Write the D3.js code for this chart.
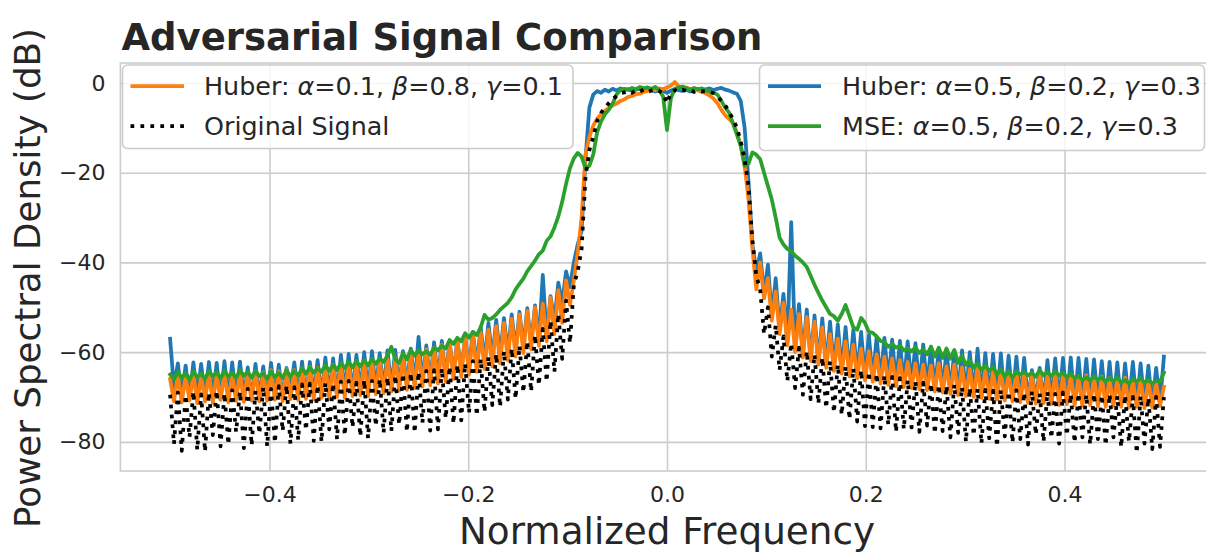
<!DOCTYPE html>
<html><head><meta charset="utf-8">
<script src="https://cdn.jsdelivr.net/npm/d3@7"></script>
<style>
body{margin:0;background:#fff}
svg{display:block}
</style>
</head><body>
<svg id="chart" width="1206" height="555"></svg>
<script>
// ---- DATA (PSD in dB, sampled every 1/256 of normalized frequency from -0.5 to 0.5) ----
const freqStart = -0.5, freqStop = 0.5;
const huberA = [ // Huber: a=0.5, b=0.2, g=0.3 (blue)
-57,-68,-62.5,-70,-63,-70.5,-62.3,-69.8,-62.6,-70.4,-62.2,-70,-62.4,-70.6,-62,-70.2,
-62.3,-70.5,-62.1,-70.1,-63.4,-70.8,-62.6,-70.3,-63.2,-70.6,-62.4,-70,-62.8,-70.4,-63.5,-68.4,
-62.3,-69.8,-62.1,-70.2,-62.2,-69.6,-61.8,-70,-61.2,-69.4,-61.4,-69.6,-60.6,-69,-60.4,-69.2,
-60.6,-68.8,-60,-69,-59.8,-68.4,-60.2,-68.6,-59.6,-68,-59.5,-67.8,-59.8,-67.5,-59.2,-67.2,
-56.6,-66.8,-58.5,-66.6,-57.8,-66,-57.5,-65.6,-57.6,-65,-57.2,-64.4,-56.4,-63.8,-55.5,-63,
-54.4,-62.2,-53.5,-61.4,-52.8,-60.8,-52.4,-60.2,-51.6,-59.6,-51,-59,-50.2,-58.2,-49.6,-57.4,
-42.8,-56.6,-47.5,-53,-44.5,-49,-42,-45.5,-40,-36,-33,-17,-5.5,-2.6,-1.8,-2.2,
-1.5,-1.9,-1.3,-1.7,-1.2,-1.6,-1.4,-1.8,-1.5,-1.3,-1.7,-1.4,-1.6,-1.9,-1.5,-1.8,
-2.2,-1.7,-1.4,-1.6,-1.8,-1.5,-1.9,-1.6,-1.3,-1.8,-1.4,-1.2,-1.6,-1.3,-1.1,-1.5,
-1.7,-2.1,-2.4,-4,-10,-22,-36,-42,-38,-47,-40.5,-52,-43.5,-55,-47,-57.5,
-31,-59,-49.3,-60.5,-50.5,-61.5,-51.8,-62.2,-52.5,-63,-53.2,-63.6,-53.8,-64.2,-54.4,-64.8,
-55,-65.2,-55.5,-65.6,-56.2,-66,-56.6,-66.4,-56.8,-66.6,-57.2,-67,-57.5,-67.3,-57.6,-67.5,
-58,-67.8,-58.3,-68,-58.8,-68.4,-59.3,-68.6,-59.5,-69,-59.8,-69.3,-59.6,-69.5,-60,-69.8,
-59.2,-70,-60.2,-70.2,-60.4,-70.4,-60.3,-70.5,-60.8,-70.6,-61,-70.8,-61.3,-71,-64,-71,
-63.5,-71.2,-61.8,-71,-61.4,-71.3,-61.3,-71.2,-61.2,-71.4,-61.3,-71.3,-61.5,-71.5,-61.6,-71.4,
-62,-71.6,-62.2,-71.5,-62.3,-71.8,-62.5,-71.6,-62.2,-72,-62.5,-71.8,-63,-72,-63.5,-71.5,
-61];
const huberB = [ // Huber: a=0.1, b=0.8, g=0.1 (orange)
-66,-71,-65,-71.2,-65.4,-70.8,-64.8,-71.4,-65.2,-71,-64.6,-71.3,-65,-70.6,-64.5,-71.2,
-64.8,-70.9,-64.3,-71.1,-64.6,-70.7,-64.2,-71,-64.5,-70.8,-64,-70.6,-64.3,-70.9,-63.8,-70.5,
-64,-70.7,-63.6,-70.4,-63.3,-70.6,-63.5,-70.2,-63,-70.4,-62.8,-70,-62.6,-70.2,-62.4,-69.8,
-62.5,-69.6,-62.2,-69.8,-62,-69.4,-61.8,-69.2,-61.5,-68.8,-61.2,-68.6,-60.8,-68.4,-60.4,-68,
-60,-67.7,-59.4,-67.4,-59,-67,-58.4,-66.6,-57.8,-66,-57.2,-65.5,-56.6,-65,-56,-64.4,
-55.6,-63.8,-55,-63.2,-54.2,-62.5,-53.5,-61.8,-52.6,-61,-51.6,-60.2,-50.8,-59.4,-50,-58.6,
-49.2,-57.6,-47.8,-56,-46.2,-53.5,-44,-49.5,-44,-38,-30,-16,-12,-9.5,-8,-7,
-6.2,-5.6,-5,-4.6,-4,-3.7,-3.1,-2.9,-2.5,-2.4,-2,-1.8,-1.5,-1.6,-1.2,-1.4,
-1,-0.6,0.2,-0.8,-1.2,-1,-1.4,-1.3,-1.7,-2,-2.3,-2.8,-3.5,-4.5,-6,-7.2,
-8,-9,-11,-14,-18.5,-26,-37,-46,-40,-48,-43.5,-53,-46.5,-56,-49,-58.5,
-50.5,-60,-51.5,-61.2,-52.2,-62,-53.2,-62.8,-54.5,-63.5,-56,-64.2,-57,-64.8,-57.6,-65.4,
-58.4,-65.8,-59.2,-66.3,-59.8,-66.6,-60.5,-67,-61,-67.3,-61.4,-67.6,-61.8,-67.8,-62.2,-68,
-62.5,-68.3,-62.8,-68.5,-63,-68.8,-62.5,-69,-63.2,-69.3,-62.8,-69.6,-63.4,-69.8,-63.8,-70,
-63.2,-70.2,-64,-70.4,-64.3,-70.6,-64,-70.8,-64.6,-71,-64.4,-71.2,-64.8,-71.3,-65.2,-71.5,
-64.6,-71.4,-65,-71.6,-64.8,-71.8,-65.3,-71.6,-65,-71.8,-65.5,-72,-65.2,-71.8,-65.6,-72,
-65.4,-72.2,-65.8,-72,-66,-72.2,-65.7,-72.4,-66.2,-72.2,-66,-72.5,-66.4,-72.3,-66.8,-72,
-67.7];
const mseVals = [ // MSE: a=0.5, b=0.2, g=0.3 (green)
-65,-66,-64.4,-65.8,-64.6,-66.2,-64.3,-65.6,-64.8,-66,-64.2,-65.4,-64.5,-65.9,-64.1,-65.5,
-64.6,-65.8,-64,-65.3,-64.4,-65.7,-64.2,-65.4,-64.7,-66,-64.3,-65.6,-64.6,-65.8,-64,-65.5,
-64.2,-65.3,-63.6,-64.8,-63.4,-64.6,-63.6,-64.4,-63,-64.2,-62.8,-64,-62.4,-63.6,-62.2,-63.4,
-62,-63.2,-61.8,-63,-61.5,-62.6,-61.4,-62.2,-60.8,-58.8,-61.6,-62.4,-60.2,-61.6,-59.5,-60.8,
-59.6,-60.5,-59.8,-60.6,-59,-59.6,-58.6,-59.2,-57.3,-58.2,-56.8,-57.6,-55.8,-56.8,-55.5,-56.2,
-54.5,-51.7,-52.8,-52.4,-51.6,-50.6,-49.8,-49,-47.8,-46,-44.8,-43.6,-42,-40.8,-39.6,-38.2,
-37.4,-35.2,-34.2,-32.2,-29.8,-26.5,-22.5,-19,-16.8,-15.6,-16.4,-19,-18.5,-16,-11,-8.6,
-7,-6,-4.6,-2.6,-1.6,-1.3,-1.5,-1.1,-1.4,-0.9,-1.2,-1,-1.3,-0.9,-1.6,-3,
-10.5,-3.4,-1.3,-1,-0.8,-1.2,-1.5,-1.1,-1.4,-1.2,-1.6,-1.9,-2.2,-2.6,-4,-5.5,
-6.6,-9,-11.5,-14,-18.5,-18,-15.5,-16,-17,-20,-23,-26,-30,-34.5,-36,-37,
-37.5,-38.5,-39.2,-40,-41,-43,-45,-46.8,-48.5,-50,-51.5,-52,-53,-51.5,-49.5,-52,
-54.5,-55,-52.4,-53.5,-55.5,-55.7,-56.5,-57.5,-57.8,-58.8,-58.2,-59,-58.6,-59.6,-59.2,-59.8,
-59,-60.2,-59.4,-60.5,-58.8,-61,-59,-61.3,-59.2,-61.5,-59.5,-62.4,-60.8,-62.8,-61.8,-63.5,
-62.6,-64,-63,-64.2,-63.3,-65,-63.8,-65.5,-64.2,-65.7,-64.4,-65,-64.4,-65.2,-64.6,-65.5,
-64,-65.2,-64.4,-65.4,-64.3,-65.2,-64.6,-65.6,-64.8,-65.8,-65.3,-66.2,-65.6,-66.4,-65.4,-66.2,
-65.6,-66.6,-65.8,-66.5,-65.6,-66.8,-66.2,-67,-66,-66.6,-65.8,-66.8,-66.2,-67,-66.4,-66.6,
-64.6];
const original = [ // Original Signal (black dotted)
-69.5,-80.5,-69,-82,-69.6,-79,-68.8,-81.8,-69.4,-82.2,-69,-78.5,-68.6,-81,-69.2,-80.6,
-68.5,-77.8,-68.8,-81.4,-68.2,-80.8,-68.6,-78.2,-67.8,-81,-68.2,-80.2,-67.6,-77.6,-67.4,-80.4,
-67.8,-79.6,-67.2,-77.4,-67,-79.8,-67.4,-80,-66.8,-77.2,-67,-79.4,-66.6,-78.6,-66.4,-76.8,
-66.8,-78.8,-66.2,-79.2,-66.4,-76.5,-66,-78,-65.6,-77.6,-65.2,-76.2,-64.8,-77.8,-64.6,-78,
-64.4,-75.8,-64.2,-77.5,-64,-77.2,-63.6,-74.8,-63.2,-76,-62.8,-75.2,-62.5,-73.6,-62,-74.2,
-61.5,-73.4,-61,-71.8,-60.4,-72.2,-59.8,-70.6,-59.2,-70.4,-58.6,-69,-57.6,-68.8,-56.2,-67.4,
-54.8,-66.6,-53,-64.4,-51.5,-61.5,-48.5,-58,-45,-42,-37,-21,-15,-12,-8.5,-6.7,
-5.5,-4.5,-3.6,-2.9,-2.3,-2.1,-1.8,-2.2,-1.6,-1.9,-1.5,-2,-1.7,-1.4,-1.8,-2.4,
-4.5,-2.3,-1.6,-1.9,-1.5,-1.8,-1.6,-2,-1.7,-1.9,-1.8,-2,-2.3,-3,-4,-5,
-6.5,-8,-10,-13,-17,-23,-35,-43,-46,-56,-50,-61,-54,-64,-56.5,-66.5,
-58,-68,-59,-69.5,-59.8,-70.5,-60.5,-71.5,-61.2,-72.5,-62,-73.5,-62.8,-74,-63.2,-75,
-63.6,-75.5,-64,-76.5,-64.4,-76.7,-64.8,-77,-65.2,-76.2,-65.5,-77.8,-65.8,-77.2,-66.2,-76.8,
-66.5,-77.8,-66.8,-76.4,-67,-78.2,-67.3,-77.6,-67.5,-79,-67.2,-78,-67.8,-80,-68,-78.6,
-68.2,-80.4,-68.4,-79.2,-68.6,-81.1,-68.4,-78.8,-68.8,-80.2,-68.5,-79.4,-69,-80.6,-68.7,-78.4,
-69.2,-80,-68.8,-79.2,-69.3,-80.4,-69,-78.6,-69.4,-80.2,-69.2,-79,-69.5,-80.6,-69.3,-79.4,
-69.6,-80.8,-69.4,-79,-69.8,-81.2,-69.6,-80,-70,-82.5,-69.8,-80.4,-70.2,-81.6,-70,-81.1,
-70];
const xTicks = [-0.4, -0.2, 0.0, 0.2, 0.4];
const yTicks = [0, -20, -40, -60, -80];
const titleText = "Adversarial Signal Comparison";
const xLabel = "Normalized Frequency";
const yLabel = "Power Spectral Density (dB)";
const legendLeft = [
  {key: "huberB", parts: ["Huber: ", ["α"], "=0.1, ", ["β"], "=0.8, ", ["γ"], "=0.1"]},
  {key: "original", parts: ["Original Signal"]}
];
const legendRight = [
  {key: "huberA", parts: ["Huber: ", ["α"], "=0.5, ", ["β"], "=0.2, ", ["γ"], "=0.3"]},
  {key: "mse", parts: ["MSE: ", ["α"], "=0.5, ", ["β"], "=0.2, ", ["γ"], "=0.3"]}
];

// ---- STYLE ----
const FONT = "'DejaVu Sans', sans-serif";
const TXT = "#262626", GRID = "#cccccc";
const LW = 3.75;
const series = {
  huberA: {values: huberA, color: "#1f77b4", dash: null},
  huberB: {values: huberB, color: "#ff7f0e", dash: null},
  mse:    {values: mseVals, color: "#2ca02c", dash: null},
  original: {values: original, color: "#000000", dash: `${LW},${LW*1.65}`}
};
const drawOrder = ["huberA", "huberB", "mse", "original"];

const svg = d3.select("#chart");
const M = {left: 120.4, right: 1213.6, top: 63, bottom: 471};
const x = d3.scaleLinear().domain([-0.55, 0.55]).range([M.left, M.right]);
const y = d3.scaleLinear().domain([-86.5, 4.45]).range([M.bottom, M.top]);
const nPts = huberA.length;
const freqs = d3.range(nPts).map(i => freqStart + i * (freqStop - freqStart) / (nPts - 1));

const fmt = d => (d < 0 ? "\u2212" : "") + Math.abs(d);
const fmtX = d => (d < 0 ? "\u2212" : "") + Math.abs(d).toFixed(1);

// background grid via axes
const gx = svg.append("g").attr("transform", `translate(0,${M.bottom})`)
  .call(d3.axisBottom(x).tickValues(xTicks).tickSize(-(M.bottom - M.top)).tickPadding(15).tickFormat(fmtX));
const gy = svg.append("g").attr("transform", `translate(${M.left},0)`)
  .call(d3.axisLeft(y).tickValues(yTicks).tickSize(-(M.right - M.left)).tickPadding(15).tickFormat(fmt));
[gx, gy].forEach(g => {
  g.select(".domain").remove();
  g.attr("font-family", FONT).attr("font-size", 22).attr("color", TXT);
  g.selectAll(".tick line").attr("stroke", GRID).attr("stroke-width", 1.6);
  g.selectAll(".tick text").attr("fill", TXT);
});

// lines
const line = d3.line().x((d, i) => x(freqs[i])).y(d => y(d));
drawOrder.forEach(k => {
  const s = series[k];
  const p = svg.append("path").datum(s.values)
    .attr("fill", "none").attr("stroke", s.color).attr("stroke-width", LW)
    .attr("stroke-linejoin", "round")
    .attr("d", line);
  if (s.dash) p.attr("stroke-dasharray", s.dash).attr("stroke-linecap", "butt");
  else p.attr("stroke-linecap", "square");
});

// spines
svg.append("rect").attr("x", M.left).attr("y", M.top)
  .attr("width", M.right - M.left).attr("height", M.bottom - M.top)
  .attr("fill", "none").attr("stroke", GRID).attr("stroke-width", 1.6);

// title & labels
svg.append("text").attr("x", M.left + 1).attr("y", 50)
  .attr("font-family", FONT).attr("font-weight", "bold").attr("font-size", 37)
  .attr("fill", TXT).text(titleText);
svg.append("text").attr("x", x(0)).attr("y", 544).attr("text-anchor", "middle")
  .attr("font-family", FONT).attr("font-size", 37.3).attr("fill", TXT).text(xLabel);
svg.append("text").attr("transform", `translate(40,278) rotate(-90)`)
  .attr("text-anchor", "middle")
  .attr("font-family", FONT).attr("font-size", 35.7).attr("fill", TXT).text(yLabel);

// legends
function drawLegend(items, bx, by, bw, bh, lineX0, lineX1, textX) {
  const g = svg.append("g");
  g.append("rect").attr("x", bx).attr("y", by).attr("width", bw).attr("height", bh)
    .attr("rx", 5).attr("fill", "#fff").attr("fill-opacity", 0.8)
    .attr("stroke", GRID).attr("stroke-width", 1.6);
  items.forEach((it, j) => {
    const s = series[it.key];
    const ly = by + 21 + j * 40;
    const l = g.append("line").attr("x1", lineX0).attr("x2", lineX1).attr("y1", ly).attr("y2", ly)
      .attr("stroke", s.color).attr("stroke-width", LW);
    if (s.dash) l.attr("stroke-dasharray", s.dash);
    else l.attr("stroke-linecap", "butt");
    const t = g.append("text").attr("x", textX).attr("y", ly + 8.5)
      .attr("font-family", FONT).attr("font-size", 25.4).attr("fill", TXT);
    it.parts.forEach(p => {
      if (Array.isArray(p)) t.append("tspan").attr("font-style", "italic").text(p[0]);
      else t.append("tspan").text(p);
    });
  });
}
drawLegend(legendLeft, 122.5, 65, 450.5, 83.5, 130.5, 184, 204);
drawLegend(legendRight, 759.5, 65, 445, 85.5, 768, 821, 842);
</script>
</body></html>
